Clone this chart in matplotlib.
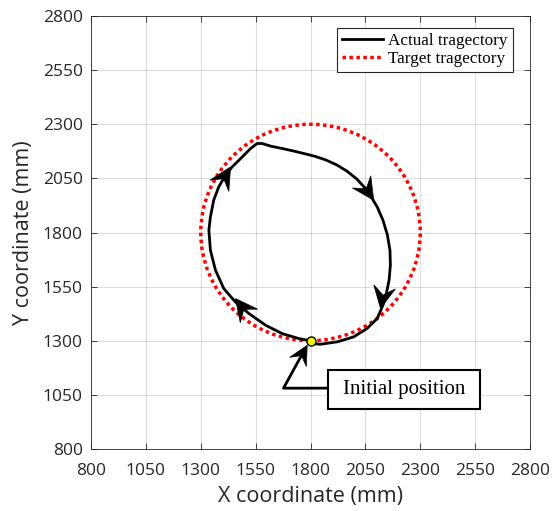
import numpy as np
import matplotlib.pyplot as plt
from matplotlib.patches import Circle, Rectangle, Polygon
from matplotlib.lines import Line2D

# actual trajectory (mm), clockwise from the initial position
actual_x = [1800, 1747, 1671, 1595, 1519, 1458, 1405, 1367, 1344, 1337, 1344,
            1359, 1382, 1413, 1443, 1489, 1527, 1557, 1580, 1618, 1671, 1720,
            1769, 1820, 1870, 1920, 1965, 2010, 2058, 2104, 2130, 2150, 2162,
            2164, 2158, 2146, 2130, 2104, 2058, 1997, 1922, 1846, 1800]
actual_y = [1300, 1310, 1333, 1372, 1426, 1479, 1541, 1626, 1718, 1811, 1872,
            1949, 2011, 2065, 2103, 2149, 2188, 2211, 2211, 2199, 2188, 2177,
            2165, 2152, 2135, 2112, 2084, 2048, 1995, 1918, 1857, 1790, 1718,
            1650, 1580, 1520, 1464, 1403, 1357, 1318, 1295, 1284, 1287]

# target trajectory: circle
target_center = (1800, 1800)
target_radius = 500

# direction arrows on the trajectory (tail, tip)
arrow_tails = [(1382, 2011), (2058, 1995), (2134, 1530), (1511, 1426)]
arrow_tips = [(1436, 2103), (2088, 1949), (2119, 1449), (1458, 1495)]

start_pos = (1800, 1300)
ticks = [800, 1050, 1300, 1550, 1800, 2050, 2300, 2550, 2800]

plt.rcParams['font.family'] = ['Open Sans', 'DejaVu Sans']
axcol = '#262626'

fig = plt.figure(figsize=(5.59, 5.11), dpi=100)
ax = fig.add_axes([91 / 559, 1 - 449 / 511, 439 / 559, 433 / 511])
ax.set_xlim(800, 2800)
ax.set_ylim(800, 2800)


def arrow_head(tail, tip, L=22, W=22, notch=0.62):
    # notched head, sized in pixels
    p0 = ax.transData.transform(tail)
    p1 = ax.transData.transform(tip)
    d = (p1 - p0) / np.hypot(*(p1 - p0))
    n = np.array([-d[1], d[0]])
    pts = [p1, p1 - L * d + W / 2 * n, p1 - notch * L * d, p1 - L * d - W / 2 * n]
    pts = ax.transData.inverted().transform(np.array(pts))
    ax.add_patch(Polygon(pts, closed=True, facecolor='black', edgecolor='black',
                         lw=0.5, zorder=4))


ax.plot(actual_x, actual_y, color='black', lw=2, zorder=3)
ax.add_patch(Circle(target_center, target_radius, fill=False, edgecolor='red',
                    lw=2.5, linestyle=(0, (1, 1)), zorder=2))

for t, h in zip(arrow_tails, arrow_tips):
    arrow_head(t, h)

# initial position callout
ax.plot([1882, 1677, 1775], [1081, 1081, 1262], color='black', lw=2, zorder=3)
arrow_head((1677, 1081), (1785, 1279), L=19, W=19)
ax.plot(start_pos[0], start_pos[1], 'o', ms=6.5, mfc='yellow', mec='black', mew=1, zorder=5)
ax.add_patch(Rectangle((1882, 984), 692, 180, facecolor='white', edgecolor='black',
                       lw=1.5, zorder=4))
ax.text(2228, 1074, 'Initial position', ha='center', va='center', fontsize=15,
        family='Liberation Serif', zorder=5)

ax.set_xticks(ticks)
ax.set_yticks(ticks)
ax.tick_params(direction='in', length=4, width=0.6, colors=axcol, labelsize=12.5,
               top=True, right=True, labeltop=False, labelright=False)
ax.tick_params(axis='x', pad=10)
ax.tick_params(axis='y', pad=6)
for s in ax.spines.values():
    s.set_color(axcol)
    s.set_linewidth(0.6)
ax.grid(True, color='#262626', alpha=0.15, lw=0.8)
ax.set_axisbelow(True)
ax.set_xlabel('X coordinate (mm)', fontsize=15.5, color=axcol, labelpad=5)
ax.set_ylabel('Y coordinate (mm)', fontsize=15.5, color=axcol, labelpad=6)

handles = [Line2D([], [], color='black', lw=2),
           Line2D([], [], color='red', lw=2.5, linestyle=(0, (1, 1)))]
leg = ax.legend(handles, ['Actual tragectory', 'Target tragectory'],
                loc='upper right', bbox_to_anchor=(0.961, 0.972), borderaxespad=0,
                prop={'family': 'Liberation Serif', 'size': 12.3},
                handlelength=2.4, handletextpad=0.3, labelspacing=0.1,
                borderpad=0.3, fancybox=False, framealpha=1)
leg.get_frame().set_edgecolor(axcol)
leg.get_frame().set_linewidth(0.8)

fig.savefig('out.png', dpi=100)
